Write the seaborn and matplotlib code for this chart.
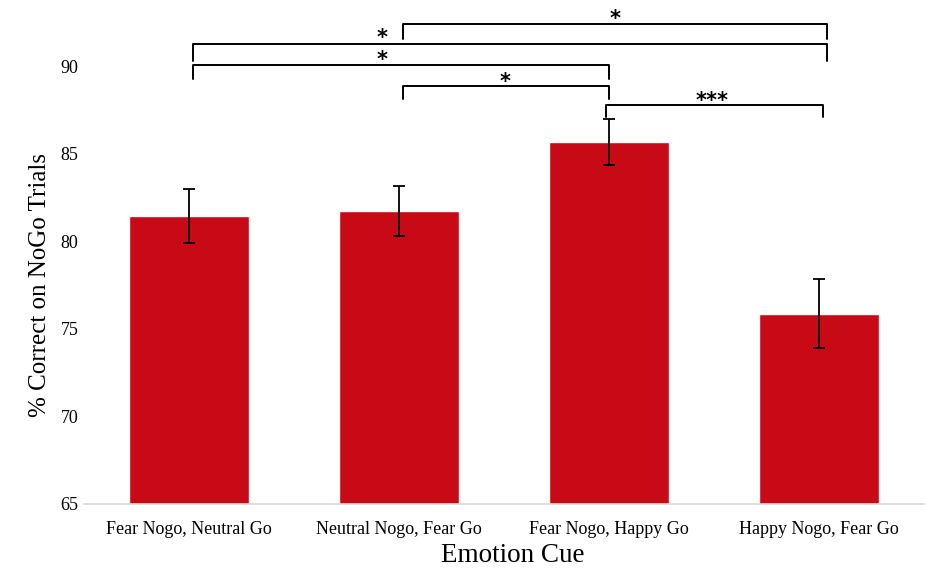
import matplotlib
matplotlib.use("Agg")
import matplotlib.pyplot as plt
import matplotlib.transforms as mtransforms
import seaborn as sns
import pandas as pd

# Mean accuracy on NoGo trials per emotion-cue condition, with standard errors
conditions = ["Fear Nogo, Neutral Go", "Neutral Nogo, Fear Go",
              "Fear Nogo, Happy Go", "Happy Nogo, Fear Go"]
accuracy = [81.45, 81.75, 85.65, 75.85]
std_error = [1.53, 1.43, 1.30, 1.97]

# Pairwise comparisons: (left condition, right condition, significance label)
comparisons = [(1, 3, "*"), (0, 3, "*"), (0, 2, "*"), (1, 2, "*"), (2, 3, "***")]

sns.set_theme(style="white")
plt.rcParams["font.family"] = ["Liberation Serif", "DejaVu Serif"]
plt.rcParams["text.color"] = "black"
plt.rcParams["axes.labelcolor"] = "black"
plt.rcParams["xtick.color"] = "black"
plt.rcParams["ytick.color"] = "black"

df = pd.DataFrame({"condition": conditions, "accuracy": accuracy})

fig = plt.figure(figsize=(9.26, 5.68), dpi=100)
ax = fig.add_axes([84 / 926, 64 / 568, 840 / 926, 504 / 568])

sns.barplot(data=df, x="condition", y="accuracy", color="#C80A17",
            saturation=1, width=0.57, errorbar=None, ax=ax)
ax.errorbar(range(len(conditions)), accuracy, yerr=std_error, fmt="none",
            ecolor="black", elinewidth=1.3, capsize=4, capthick=1.3, zorder=3)

ax.set_xlim(-0.5, 3.5)
ax.set_ylim(65, 93.77)
ax.set_yticks([65, 70, 75, 80, 85, 90])
ax.tick_params(axis="both", length=0, labelsize=13)
ax.tick_params(axis="x", pad=12)
ax.tick_params(axis="y", pad=4)
for side in ["left", "right", "top"]:
    ax.spines[side].set_visible(False)
ax.spines["bottom"].set_color("#D9D9D9")
ax.spines["bottom"].set_linewidth(1.2)

ax.set_xlabel("Emotion Cue", fontsize=19.5)
ax.set_ylabel("% Correct on NoGo Trials", fontsize=18)
ax.xaxis.set_label_coords(0.51, -0.077)
ax.yaxis.set_label_coords(-0.039, (77.5 - 65) / (93.77 - 65))

# Significance brackets: horizontal level, leg bottoms, x nudges and label position
bracket_layout = [
    # (top, left leg end, right leg end, x-left, x-right, label x, label y)
    (92.41, 91.54, 91.54, 1.021, 3.036, 2.03, 92.91),
    (91.24, 90.30, 90.30, 0.021, 3.036, 0.921, 91.83),
    (90.04, 89.27, 89.27, 0.021, 1.998, 0.921, 90.57),
    (88.86, 88.12, 88.12, 1.017, 1.998, 1.503, 89.36),
    (87.76, 87.11, 87.11, 1.988, 3.021, 2.491, 88.25),
]
star_size = 15
# asterisks sit high above the baseline; drop the baseline so the glyph centre lands on label y
star_trans = mtransforms.offset_copy(ax.transData, fig=fig, x=0,
                                     y=-0.5 * star_size, units="points")
for (i, j, label), (top, lb, rb, xl, xr, tx, ty) in zip(comparisons, bracket_layout):
    ax.plot([xl, xl, xr, xr], [lb, top, top, rb], color="black", lw=1.4,
            solid_joinstyle="round", clip_on=False, zorder=4)
    ax.text(tx, ty, label, ha="center", va="baseline", fontsize=star_size,
            fontweight="bold", fontfamily="DejaVu Sans", transform=star_trans,
            clip_on=False)

fig.savefig("out.png", dpi=100)
